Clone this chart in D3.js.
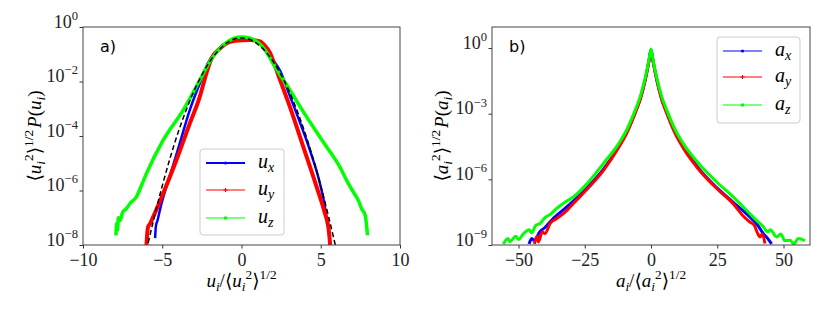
<!DOCTYPE html>
<html>
<head>
<meta charset="utf-8">
<script src="https://cdn.jsdelivr.net/npm/d3@7"></script>
<style>
  body { margin: 0; background: #fff; }
</style>
</head>
<body>
<script>
// ---- panel a) velocity PDFs: [u, log10 P] ----
const uxData = [[-5.45,-7.75],[-5.4,-7.3],[-5.3,-7.1],[-5.1,-6.6],[-4.74,-5.87],[-4.3,-5.05],[-3.9,-4.28],[-3.27,-3.06],[-2.64,-2.08],[-2.12,-1.32],[-1.6,-0.9],[-1.0,-0.6],[-0.5,-0.45],[0,-0.4],[0.5,-0.43],[1.0,-0.55],[1.6,-0.87],[2.1,-1.3],[2.43,-1.6],[3.0,-2.45],[3.48,-3.18],[4.32,-4.53],[4.95,-5.75],[5.33,-6.85],[5.42,-7.3]];
const uyData = [[-6.0,-8.05],[-5.95,-7.6],[-5.9,-7.35],[-5.75,-7.2],[-5.6,-7.0],[-5.48,-6.85],[-4.95,-6.12],[-4.11,-4.89],[-3.27,-3.55],[-2.64,-2.57],[-2.22,-1.71],[-1.9,-1.16],[-1.38,-0.8],[-0.75,-0.55],[0,-0.49],[0.6,-0.48],[1.17,-0.53],[1.5,-0.7],[1.8,-0.95],[2.1,-1.41],[2.5,-2.05],[3.06,-2.94],[3.9,-4.4],[4.74,-5.87],[5.27,-6.85],[5.48,-7.34],[5.55,-7.7],[5.6,-8.05]];
const uzData = [[-7.92,-7.65],[-7.87,-7.2],[-7.82,-7.45],[-7.77,-7.0],[-7.65,-7.1],[-7.5,-6.8],[-7.27,-6.67],[-7.0,-6.45],[-6.64,-6.24],[-6.3,-5.8],[-6.0,-5.38],[-4.95,-4.16],[-3.69,-3.06],[-2.64,-1.96],[-2.01,-1.28],[-1.17,-0.67],[-0.5,-0.42],[0,-0.37],[0.5,-0.4],[1.0,-0.55],[1.5,-0.85],[2.0,-1.35],[3.06,-2.32],[4.11,-3.3],[5.16,-4.22],[6.21,-5.14],[6.7,-5.7],[7.05,-6.05],[7.4,-6.4],[7.58,-6.67],[7.8,-6.9],[7.88,-7.22],[7.95,-7.65]];
const gaussData = [[-6,-8.21],[-5.5,-6.97],[-5,-5.83],[-4.5,-4.8],[-4,-3.87],[-3.5,-3.06],[-3,-2.35],[-2.5,-1.76],[-2,-1.27],[-1.5,-0.89],[-1,-0.62],[-0.5,-0.45],[0,-0.4],[0.5,-0.45],[1,-0.62],[1.5,-0.89],[2,-1.27],[2.5,-1.76],[3,-2.35],[3.5,-3.06],[4,-3.87],[4.5,-4.8],[5,-5.83],[5.5,-6.97],[6,-8.21]];

// ---- panel b) acceleration PDFs: [a, log10 P] ----
const axData = [[-46,-8.95],[-45,-8.7],[-44,-8.8],[-42,-8.4],[-40,-8.2],[-37,-7.8],[-35.6,-7.65],[-29.3,-7.0],[-23,-6.25],[-18,-5.55],[-12.2,-4.5],[-9,-3.8],[-6,-2.95],[-4,-2.3],[-2.1,-1.4],[-0.8,-0.62],[0,-0.08],[0.8,-0.62],[2.1,-1.4],[4,-2.3],[6,-2.95],[9,-3.82],[12.2,-4.5],[18,-5.5],[24.8,-6.38],[31,-7.05],[37.3,-7.72],[40,-8.05],[42.4,-8.48],[44,-8.7],[45.5,-8.95]];
const ayData = [[-44,-8.95],[-43,-8.6],[-42.5,-8.86],[-41,-8.4],[-40,-8.48],[-38,-8.0],[-35.6,-7.79],[-32,-7.45],[-29.3,-7.1],[-23,-6.31],[-18,-5.6],[-12.2,-4.55],[-9,-3.85],[-6,-2.98],[-4,-2.32],[-2.1,-1.42],[-0.8,-0.63],[0,-0.1],[0.8,-0.63],[2.1,-1.42],[4,-2.34],[6,-3.0],[9,-3.88],[12.2,-4.58],[18,-5.55],[24.8,-6.42],[31,-7.11],[35,-7.7],[37.3,-7.95],[39,-8.1],[40,-8.4],[41.1,-8.63],[42,-8.5],[43,-8.93]];
const azData = [[-55.7,-8.95],[-54,-8.7],[-53.2,-8.85],[-51,-8.6],[-50,-8.75],[-48.1,-8.48],[-46,-8.3],[-45,-8.45],[-43.5,-8.1],[-41.9,-8.02],[-40,-7.75],[-38,-7.6],[-35.6,-7.33],[-32.5,-7.05],[-29.3,-6.8],[-23,-6.04],[-18,-5.28],[-12.2,-4.37],[-9,-3.7],[-6,-2.85],[-4,-2.2],[-2.1,-1.32],[-0.8,-0.56],[0,-0.05],[0.8,-0.56],[2.1,-1.32],[4,-2.2],[6,-2.85],[9,-3.7],[12.2,-4.37],[18,-5.28],[24.8,-6.12],[31,-6.8],[37.3,-7.57],[40,-7.9],[42.4,-8.17],[44,-8.4],[45,-8.3],[47.4,-8.63],[49,-8.5],[50.5,-8.8],[52.4,-8.78],[54,-8.95],[55.5,-8.7],[58.1,-8.8]];

// ticks
const xTicksA = [-10, -5, 0, 5, 10];
const yExpA = [-8, -6, -4, -2, 0];
const xTicksB = [-50, -25, 0, 25, 50];
const yExpB = [-9, -6, -3, 0];

const width = 830;
const height = 312;
const serif = "'Liberation Serif', 'DejaVu Serif', serif";
const blue = "#0000ff", red = "#ff0000", green = "#00ff00";

const svg = d3.select("body").append("svg")
    .attr("width", width)
    .attr("height", height)
    .style("font-family", serif);

// writes simple math: parts = {t, it, s (1 sup, -1 sub), dx}
function mathText(sel, parts, size) {
    const small = size * 0.7;
    let cur = 0;
    sel.style("font-family", serif);
    parts.forEach(p => {
        const target = p.s === 1 ? -0.42 * size : p.s === -1 ? 0.22 * size : 0;
        const ts = sel.append("tspan")
            .attr("dy", target - cur)
            .attr("font-size", p.s ? small : size)
            .text(p.t);
        if (p.it) ts.attr("font-style", "italic");
        if (p.dx) ts.attr("dx", p.dx);
        cur = target;
    });
}

function panel(cfg) {
    const x = d3.scaleLinear().domain(cfg.xDomain).range([cfg.left, cfg.right]);
    const y = d3.scaleLog().domain(cfg.yDomain).range([245, 27]);
    const g = svg.append("g");

    g.append("clipPath").attr("id", cfg.id)
        .append("rect")
        .attr("x", cfg.left).attr("y", 27)
        .attr("width", cfg.right - cfg.left).attr("height", 218);

    const line = d3.line()
        .x(d => x(d[0]))
        .y(d => y(Math.pow(10, d[1])))
        .curve(d3.curveMonotoneX);

    const plot = g.append("g").attr("clip-path", `url(#${cfg.id})`);
    cfg.series.forEach(s => {
        plot.append("path")
            .datum(s.data)
            .attr("fill", "none")
            .attr("stroke", s.color)
            .attr("stroke-width", s.w)
            .attr("stroke-linejoin", "round")
            .attr("stroke-dasharray", s.dash || null)
            .attr("d", line);
    });

    const xAxis = g.append("g")
        .attr("transform", "translate(0,245)")
        .attr("color", "#333")
        .call(d3.axisBottom(x).tickValues(cfg.xTicks).tickSize(3.5).tickPadding(4.5));
    xAxis.select(".domain").remove();
    xAxis.selectAll("text")
        .attr("font-size", 18)
        .style("font-family", serif)
        .attr("fill", "#222");

    const yAxis = g.append("g")
        .attr("transform", `translate(${cfg.left},0)`)
        .attr("color", "#333")
        .call(d3.axisLeft(y).tickValues(cfg.yExp.map(e => Math.pow(10, e))).tickSize(3.5).tickPadding(1.5).tickFormat(""));
    yAxis.select(".domain").remove();
    yAxis.selectAll(".tick text").each(function(d) {
        const t = d3.select(this).attr("fill", "#222").attr("font-size", 18);
        const e = Math.round(Math.log10(d));
        mathText(t, [{t: "10"}, {t: e < 0 ? "\u2212" + (-e) : String(e), s: 1}], 18);
    });

    g.append("rect")
        .attr("x", cfg.left).attr("y", 27)
        .attr("width", cfg.right - cfg.left).attr("height", 218)
        .attr("fill", "none").attr("stroke", "#444").attr("stroke-width", 1);

    // panel letter
    g.append("text")
        .attr("x", cfg.left + 17).attr("y", 52)
        .style("font-family", "'DejaVu Sans', sans-serif")
        .attr("font-size", 16)
        .text(cfg.letter);

    // x label
    const xl = g.append("text")
        .attr("x", (cfg.left + cfg.right) / 2).attr("y", 287)
        .attr("text-anchor", "middle");
    const v = cfg.v;
    mathText(xl, [{t: v, it: 1}, {t: "i", it: 1, s: -1}, {t: "/\u27E8"}, {t: v, it: 1},
        {t: "i", it: 1, s: -1}, {t: "2", s: 1}, {t: "\u27E9"}, {t: "1/2", s: 1}], 19);

    // y label
    const yl = g.append("text")
        .attr("transform", `translate(${cfg.ylabX},136) rotate(-90)`)
        .attr("text-anchor", "middle");
    mathText(yl, [{t: "\u27E8"}, {t: v, it: 1}, {t: "i", it: 1, s: -1}, {t: "2", s: 1},
        {t: "\u27E9"}, {t: "1/2", s: 1}, {t: "P", it: 1, dx: 2}, {t: "("}, {t: v, it: 1},
        {t: "i", it: 1, s: -1}, {t: ")"}], 19);

    // legend
    const L = cfg.legend;
    const lg = g.append("g");
    lg.append("rect")
        .attr("x", L.x).attr("y", L.y).attr("width", L.w).attr("height", L.h)
        .attr("rx", 3)
        .attr("fill", "#fff").attr("fill-opacity", 0.8)
        .attr("stroke", "#ccc").attr("stroke-width", 1);
    cfg.series.filter(s => s.label).forEach((s, i) => {
        const yy = L.rows[i];
        lg.append("line")
            .attr("x1", L.x + 6).attr("x2", L.x + 45)
            .attr("y1", yy).attr("y2", yy)
            .attr("stroke", s.color).attr("stroke-width", s.lw);
        const mx = L.x + 25.5;
        if (s.marker === "dot") {
            lg.append("circle").attr("cx", mx).attr("cy", yy).attr("r", 1.6).attr("fill", s.color);
        } else if (s.marker === "plus") {
            lg.append("path").attr("d", `M${mx - 2},${yy}H${mx + 2}M${mx},${yy - 2}V${yy + 2}`)
                .attr("stroke", s.color).attr("stroke-width", 1);
        } else {
            lg.append("rect").attr("x", mx - 1.5).attr("y", yy - 1.5).attr("width", 3).attr("height", 3).attr("fill", s.color);
        }
        const t = lg.append("text").attr("x", L.x + 58).attr("y", yy + 5);
        mathText(t, [{t: v, it: 1}, {t: s.label, it: 1, s: -1}], 20);
    });
}

panel({
    id: "clipA", letter: "a)", v: "u",
    xDomain: [-10, 10], yDomain: [1e-8, 1], left: 83, right: 400,
    xTicks: xTicksA, yExp: yExpA, ylabX: 41,
    legend: {x: 200, y: 149, w: 84, h: 86, rows: [163, 190, 218]},
    series: [
        {data: uxData, color: blue, w: 2.5, lw: 2, marker: "dot", label: "x"},
        {data: uyData, color: red, w: 4, lw: 1.2, marker: "plus", label: "y"},
        {data: uzData, color: green, w: 3.5, lw: 1.2, marker: "sq", label: "z"},
        {data: gaussData, color: "#000", w: 1.5, dash: "5,3"}
    ]
});

panel({
    id: "clipB", letter: "b)", v: "a",
    xDomain: [-60, 60], yDomain: [1e-9, Math.pow(10, 0.96)], left: 492, right: 810,
    xTicks: xTicksB, yExp: yExpB, ylabX: 448,
    legend: {x: 717, y: 37, w: 83, h: 86, rows: [51, 77, 105]},
    series: [
        {data: axData, color: blue, w: 3, lw: 1.2, marker: "dot", label: "x"},
        {data: ayData, color: red, w: 3, lw: 1.2, marker: "plus", label: "y"},
        {data: azData, color: green, w: 3, lw: 1.2, marker: "sq", label: "z"}
    ]
});
</script>
</body>
</html>
